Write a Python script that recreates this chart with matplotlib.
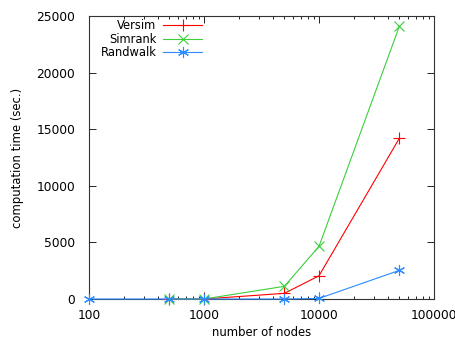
import matplotlib
matplotlib.use("Agg")
import matplotlib.pyplot as plt
from matplotlib.ticker import LogLocator, FixedLocator, NullFormatter

versim_x = [500, 1000, 5000, 10000, 50000]
versim_y = [0, 0, 500, 2050, 14200]
simrank_x = [500, 1000, 5000, 10000, 50000]
simrank_y = [0, 0, 1120, 4650, 24100]
randwalk_x = [100, 500, 1000, 5000, 10000, 50000]
randwalk_y = [0, 0, 0, 0, 50, 2530]

xticks = [100, 1000, 10000, 100000]
xticklabels = ["100", "1000", "10000", "100000"]
yticks = [0, 5000, 10000, 15000, 20000, 25000]

plt.rcParams['font.family'] = ['DejaVu Sans']
fig = plt.figure(figsize=(4.56, 3.41), dpi=100)
ax = fig.add_axes([89/456, 42/341, (434-89)/456, (299-16)/341])

ax.plot(versim_x, versim_y, color='#ff0000', lw=0.8, marker='+', ms=8, mew=0.8, label='Versim', clip_on=False, zorder=3)
ax.plot(simrank_x, simrank_y, color='#3ccf3c', lw=0.8, marker='x', ms=6.5, mew=0.8, label='Simrank', clip_on=False, zorder=3)
ax.plot(randwalk_x, randwalk_y, color='#2a8cff', lw=0.8, marker=(6, 2, 0), ms=8, mew=0.8, label='Randwalk', clip_on=False, zorder=4)

ax.set_xscale('log')
ax.set_xlim(100, 100000)
ax.set_ylim(0, 25000)
ax.xaxis.set_major_locator(FixedLocator(xticks))
ax.set_xticklabels(xticklabels)
ax.xaxis.set_minor_locator(LogLocator(base=10, subs=range(2, 10)))
ax.xaxis.set_minor_formatter(NullFormatter())
ax.set_yticks(yticks)
ax.set_yticklabels([str(v) for v in yticks])

ax.tick_params(which='both', direction='in', top=True, right=True, labelsize=8.8, colors='black', width=0.6)
ax.tick_params(which='major', length=5)
ax.tick_params(axis='y', which='major', pad=10)
ax.tick_params(axis='x', which='major', pad=7)
ax.tick_params(which='minor', length=2.5)
for s in ax.spines.values():
    s.set_linewidth(0.8)
    s.set_color('#333333')

ax.set_xlabel('number of nodes', fontsize=8.4, labelpad=3)
ax.set_ylabel('computation time (sec.)', fontsize=8.4, labelpad=9)

leg = ax.legend(loc='upper left', frameon=False, markerfirst=False, fontsize=8.3,
                handlelength=3.4, handletextpad=0.6, labelspacing=0.03,
                borderaxespad=0.0, bbox_to_anchor=(0.02, 1.005))

fig.savefig('out.png', dpi=100)
